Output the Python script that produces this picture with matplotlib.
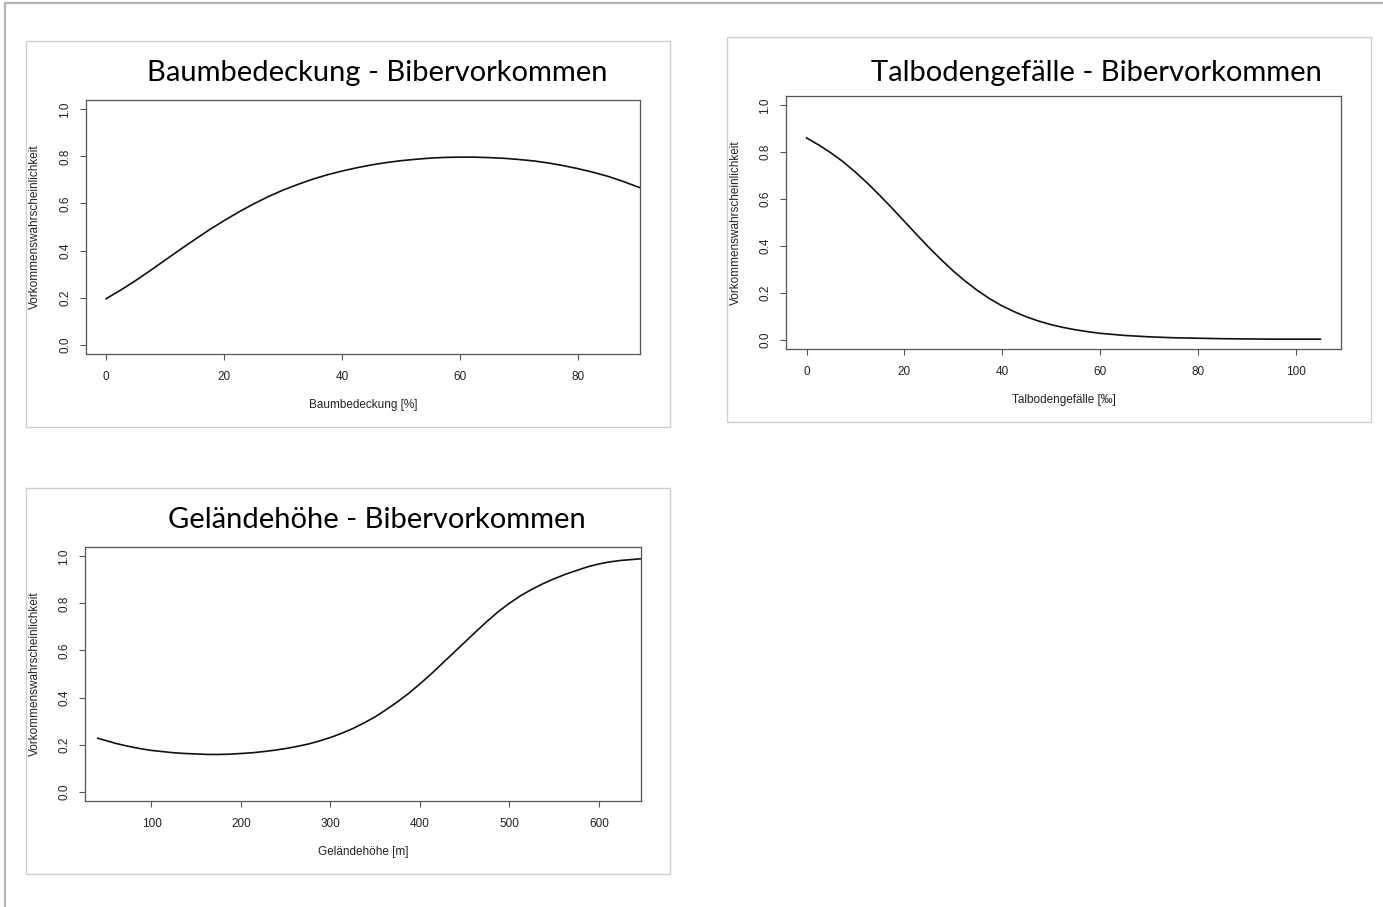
import matplotlib
matplotlib.use("Agg")
import matplotlib.pyplot as plt
from matplotlib.patches import Rectangle
from matplotlib.lines import Line2D

W, H = 1383, 907

# Baumbedeckung [%] vs. Vorkommenswahrscheinlichkeit
baum_x = [0, 2.5, 5, 7.5, 10, 12.5, 15, 17.5, 20, 22.5, 25, 27.5, 30, 32.5, 35, 37.5,
          40, 42.5, 45, 47.5, 50, 52.5, 55, 57.5, 60, 62.5, 65, 67.5, 70, 72.5, 75,
          77.5, 80, 82.5, 85, 87.5, 90.5]
baum_y = [0.195, 0.232, 0.272, 0.315, 0.359, 0.403, 0.446, 0.488, 0.527, 0.564, 0.598,
          0.629, 0.657, 0.681, 0.703, 0.722, 0.738, 0.752, 0.764, 0.774, 0.782, 0.788,
          0.793, 0.796, 0.797, 0.797, 0.795, 0.792, 0.787, 0.781, 0.772, 0.761, 0.748,
          0.733, 0.716, 0.695, 0.667]

# Talbodengefaelle [permille]
tal_x = [0, 2.5, 5, 7.5, 10, 12.5, 15, 17.5, 20, 22.5, 25, 27.5, 30, 32.5, 35, 37.5,
         40, 42.5, 45, 47.5, 50, 52.5, 55, 57.5, 60, 65, 70, 75, 80, 85, 90, 95, 100, 105.1]
tal_y = [0.861, 0.831, 0.797, 0.759, 0.715, 0.667, 0.615, 0.561, 0.505, 0.449, 0.394,
         0.342, 0.293, 0.249, 0.209, 0.174, 0.144, 0.119, 0.097, 0.079, 0.064, 0.052,
         0.042, 0.034, 0.027, 0.018, 0.012, 0.008, 0.006, 0.004, 0.003, 0.002, 0.002, 0.002]

# Gelaendehoehe [m]
hoehe_x = [40, 50, 60, 70, 80, 90, 100, 112.5, 125, 137.5, 150, 162.5, 175, 187.5, 200,
           212.5, 225, 237.5, 250, 262.5, 275, 287.5, 300, 312.5, 325, 337.5, 350, 362.5,
           375, 387.5, 400, 412.5, 425, 437.5, 450, 462.5, 475, 487.5, 500, 512.5, 525,
           537.5, 550, 562.5, 575, 587.5, 600, 612.5, 625, 647]
hoehe_y = [0.227, 0.216, 0.205, 0.196, 0.188, 0.181, 0.175, 0.170, 0.165, 0.162, 0.160,
           0.158, 0.158, 0.159, 0.162, 0.165, 0.170, 0.176, 0.183, 0.192, 0.202, 0.215,
           0.230, 0.248, 0.268, 0.292, 0.318, 0.349, 0.382, 0.418, 0.458, 0.500, 0.545,
           0.590, 0.635, 0.680, 0.724, 0.765, 0.801, 0.833, 0.860, 0.884, 0.905, 0.924,
           0.940, 0.956, 0.968, 0.977, 0.983, 0.990]

panels = [
    dict(title="Baumbedeckung - Bibervorkommen", xlabel="Baumbedeckung [%]",
         x=baum_x, y=baum_y, xticks=[0, 20, 40, 60, 80], xlim=(-3.4, 90.5),
         frame=(26, 41, 670, 427), axes=(86, 100, 640, 354),
         title_xy=(377, 73), xlabel_y=405, ylabel_x=35),
    dict(title="Talbodengefälle - Bibervorkommen", xlabel="Talbodengefälle [‰]",
         x=tal_x, y=tal_y, xticks=[0, 20, 40, 60, 80, 100], xlim=(-4.2, 109.3),
         frame=(727, 37, 1371, 422), axes=(786, 96, 1341, 349),
         title_xy=(1096, 73), xlabel_y=400, ylabel_x=736),
    dict(title="Geländehöhe - Bibervorkommen", xlabel="Geländehöhe [m]",
         x=hoehe_x, y=hoehe_y, xticks=[100, 200, 300, 400, 500, 600], xlim=(25.7, 647),
         frame=(26, 488, 670, 874), axes=(85, 547, 641, 801),
         title_xy=(377, 520), xlabel_y=852, ylabel_x=35),
]

yticks = [0.0, 0.2, 0.4, 0.6, 0.8, 1.0]
axis_grey = "#555555"
small_font = "Liberation Sans"


def fx(x):
    return x / W


def fy(y):
    return 1 - y / H


fig = plt.figure(figsize=(W / 100, H / 100), dpi=100)
fig.patch.set_facecolor("white")

# slide border (top and left edge)
fig.add_artist(Line2D([fx(5), fx(W)], [fy(3), fy(3)], color="#b4b4b4", lw=1.6))
fig.add_artist(Line2D([fx(5), fx(5)], [fy(3), fy(H)], color="#b4b4b4", lw=1.6))

for p in panels:
    l, t, r, b = p["frame"]
    fig.add_artist(Rectangle((fx(l), fy(b)), fx(r - l), (b - t) / H,
                             fill=False, edgecolor="#cfcfcf", lw=1.0))

    al, at, ar, ab = p["axes"]
    ax = fig.add_axes([fx(al), fy(ab), fx(ar - al), (ab - at) / H])
    ax.plot(p["x"], p["y"], color="#111111", lw=1.2)
    ax.set_xlim(*p["xlim"])
    ax.set_ylim(-0.04, 1.04)
    ax.set_xticks(p["xticks"])
    ax.set_yticks(yticks)
    ax.set_xticklabels([str(v) for v in p["xticks"]])
    ax.set_yticklabels(["%.1f" % v for v in yticks], rotation=90, va="center")
    for s in ax.spines.values():
        s.set_color(axis_grey)
        s.set_linewidth(0.9)
    ax.tick_params(length=4.5, width=0.8, color=axis_grey, labelcolor="#222222",
                   labelsize=8.5)
    ax.tick_params(axis="x", pad=8)
    ax.tick_params(axis="y", pad=6)
    for lab in ax.get_xticklabels() + ax.get_yticklabels():
        lab.set_fontfamily(small_font)

    cx = (al + ar) / 2
    cy = (at + ab) / 2
    tx, ty = p["title_xy"]
    fig.text(fx(tx), fy(ty), p["title"], ha="center", va="center",
             fontsize=21, family="Lato", color="black")
    fig.text(fx(cx), fy(p["xlabel_y"]), p["xlabel"], ha="center", va="center",
             fontsize=8.5, family=small_font, color="#222222")
    fig.text(fx(p["ylabel_x"]), fy(cy), "Vorkommenswahrscheinlichkeit", rotation=90,
             ha="center", va="center", fontsize=8.5, family=small_font, color="#222222")

fig.savefig("out.png", dpi=100, facecolor="white")
